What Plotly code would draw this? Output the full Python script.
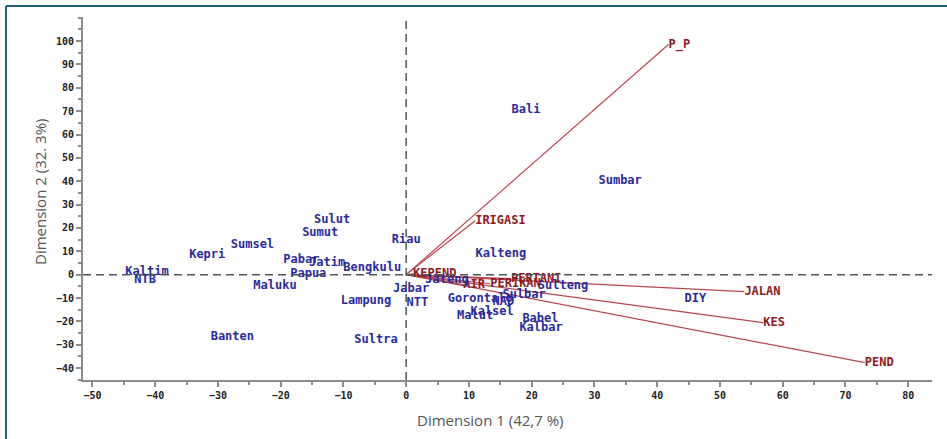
import plotly.graph_objects as go

# Observation scores (provinces) on the first two dimensions
prov_names = ["Bali", "Sumbar", "Kalteng", "Sulut", "Sumut", "Sumsel", "Kepri",
              "Kaltim", "NTB", "Pabar", "Jatim", "Papua", "Bengkulu", "Riau",
              "Maluku", "Lampung", "Banten", "Sultra", "Jabar", "NTT", "Jateng",
              "Gorontalo", "NAD", "Sulbar", "Sulteng", "Malut", "Kalsel",
              "Babel", "Kalbar", "DIY"]
prov_dim1 = [19.1, 34.1, 15.1, -11.8, -13.7, -24.5, -31.7,
             -41.3, -41.6, -16.7, -12.6, -15.6, -5.4, 0.0,
             -20.9, -6.4, -27.7, -4.8, 0.8, 1.8, 6.5,
             11.8, 15.5, 18.8, 25.0, 11.0, 13.7,
             21.4, 21.5, 46.1]
prov_dim2 = [70.6, 40.2, 9.0, 23.5, 18.0, 12.8, 8.6,
             1.3, -2.1, 6.4, 5.1, 0.4, 3.0, 15.0,
             -4.7, -11.1, -26.5, -27.8, -6.0, -12.0, -2.1,
             -10.3, -11.6, -8.6, -4.7, -17.6, -15.8,
             -18.8, -22.7, -10.3]

# Variable loadings (vectors from the origin)
var_names = ["P_P", "IRIGASI", "JALAN", "KES", "PEND",
             "KEPEND", "AIR", "PERIKAN", "PERTANI"]
var_dim1 = [41.8, 11.0, 53.9, 56.9, 73.1, 1.1, 9.1, 13.4, 16.7]
var_dim2 = [98.5, 23.1, -7.3, -20.5, -37.7, 0.4, -4.3, -3.9, -1.7]

x_ticks = list(range(-50, 81, 10))
y_ticks = list(range(-40, 101, 10))

W, H = 947, 439
ML, MR, MT, MB = 83, 15, 17, 59
PW, PH = W - ML - MR, H - MT - MB

BLUE = "#2a2a9c"
RED_TXT = "#8e1a1e"
RED_LINE = "#b8454f"
LABEL_FONT = "DejaVu Sans Mono"

fig = go.Figure()

for vx, vy in zip(var_dim1, var_dim2):
    fig.add_trace(go.Scatter(x=[0, vx], y=[0, vy], mode="lines",
                             line=dict(color=RED_LINE, width=1.2),
                             hoverinfo="skip", showlegend=False))

fig.add_trace(go.Scatter(
    x=var_dim1, y=var_dim2, mode="text", text=var_names,
    textposition="middle right",
    textfont=dict(family=LABEL_FONT, size=12, color=RED_TXT, weight="bold"),
    showlegend=False))

fig.add_trace(go.Scatter(
    x=prov_dim1, y=prov_dim2, mode="text", text=prov_names,
    textposition="middle center",
    textfont=dict(family=LABEL_FONT, size=12, color=BLUE, weight="bold"),
    showlegend=False))

tick_font = dict(family=LABEL_FONT, size=10, color="#222222", weight="bold")
axis_common = dict(showgrid=False, zeroline=False, showline=True,
                   linecolor="#8c8c8c", linewidth=2, ticks="outside",
                   ticklen=5, tickwidth=1.5, tickcolor="#8c8c8c",
                   tickfont=tick_font)

fig.update_xaxes(range=[-51.5, 83.8], tickvals=x_ticks,
                 minor=dict(dtick=5, ticks="outside", ticklen=3,
                            tickcolor="#8c8c8c", tickwidth=1.5),
                 **axis_common)
fig.update_yaxes(range=[-45.1, 110.3], tickvals=y_ticks,
                 minor=dict(dtick=5, ticks="outside", ticklen=3,
                            tickcolor="#8c8c8c", tickwidth=1.5),
                 **axis_common)

ref_line = dict(color="#4a5656", width=1.5, dash="8px,5px")
shapes = [
    dict(type="line", xref="paper", yref="y", x0=0, x1=1, y0=0, y1=0, line=ref_line),
    dict(type="line", xref="x", yref="paper", x0=0, x1=0, y0=0, y1=1, line=ref_line),
]

# outer frame (left and top edges)
def px_x(p):
    return (p - ML) / PW

def px_y(p):
    return (H - MB - p) / PH

frame = dict(color="#1e5e7e", width=2)
shapes.append(dict(type="line", xref="paper", yref="paper",
                   x0=px_x(6), x1=px_x(6), y0=px_y(6), y1=px_y(H + 5), line=frame))
shapes.append(dict(type="line", xref="paper", yref="paper",
                   x0=px_x(6), x1=px_x(W + 5), y0=px_y(6), y1=px_y(6), line=frame))

title_font = dict(family="Open Sans", size=15, color="#555555")
annotations = [
    dict(text="Dimension 1 (42,7 %)", xref="paper", yref="paper",
         x=px_x(490), y=px_y(420), showarrow=False, font=title_font,
         xanchor="center", yanchor="middle"),
    dict(text="Dimension 2 (32. 3%)", xref="paper", yref="paper",
         x=px_x(40), y=px_y(192), showarrow=False, font=title_font,
         textangle=-90, xanchor="center", yanchor="middle"),
]

fig.update_layout(width=W, height=H, autosize=False,
                  margin=dict(l=ML, r=MR, t=MT, b=MB),
                  paper_bgcolor="white", plot_bgcolor="white",
                  shapes=shapes, annotations=annotations, showlegend=False)

fig.write_html("out.html")
